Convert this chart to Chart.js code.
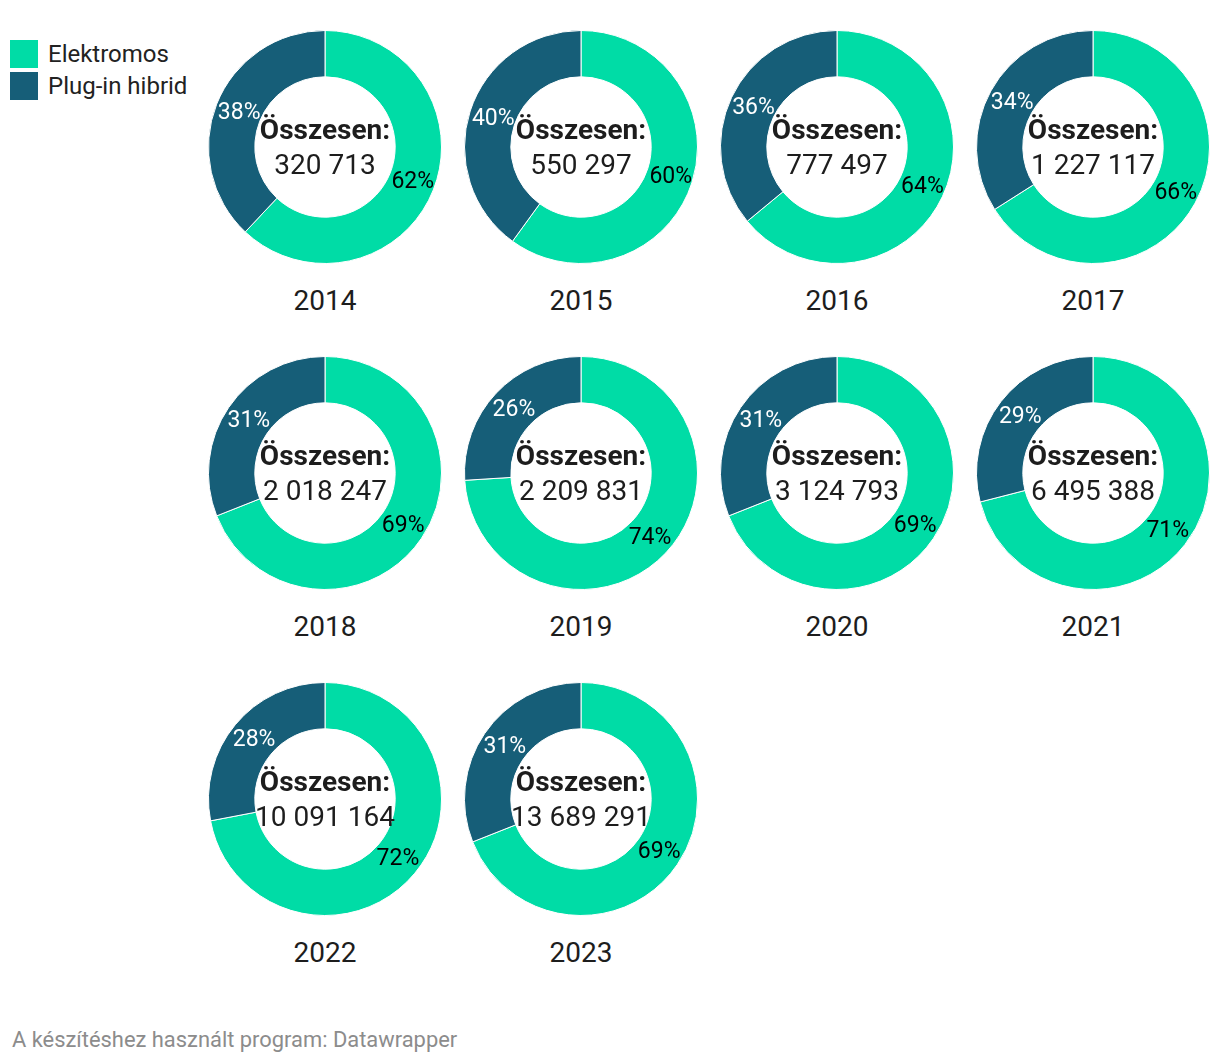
<!DOCTYPE html>
<html>
<head>
<meta charset="utf-8">
<script src="https://cdn.jsdelivr.net/npm/chart.js@4/dist/chart.umd.min.js"></script>
<style>
  html, body { margin: 0; padding: 0; background: #fff; }
  #wrap { position: relative; width: 1220px; height: 1064px; font-family: Roboto, "Noto Sans", sans-serif; color: #1d1d1d; overflow: hidden; }
  canvas { position: absolute; }
  .center { position: absolute; width: 240px; text-align: center; font-size: 28px; line-height: 35px; white-space: nowrap; }
  .center b { font-weight: 700; }
  .year { position: absolute; width: 200px; text-align: center; font-size: 28px; line-height: 30px; }
  .leg { position: absolute; left: 10px; width: 28px; height: 28px; }
  .legtxt { position: absolute; left: 48px; font-size: 24px; line-height: 28px; color: #222; white-space: nowrap; }
  #footer { position: absolute; left: 12px; top: 1026px; font-size: 21.9px; line-height: 28px; color: #8c8c8c; white-space: nowrap; }
</style>
</head>
<body>
<div id="wrap"></div>
<script>
const years = ["2014","2015","2016","2017","2018","2019","2020","2021","2022","2023"];
const seriesNames = ["Elektromos", "Plug-in hibrid"];
const elektromosPct = [62, 60, 64, 66, 69, 74, 69, 71, 72, 69];
const pluginPct = [38, 40, 36, 34, 31, 26, 31, 29, 28, 31];
const totals = ["320 713", "550 297", "777 497", "1 227 117", "2 018 247", "2 209 831", "3 124 793", "6 495 388", "10 091 164", "13 689 291"];
const centerTitle = "Összesen:";
const footerText = "A készítéshez használt program: Datawrapper";

const COLORS = ["#00dca6", "#165e78"];
const LABEL_COLORS = ["#000000", "#ffffff"];

const wrap = document.getElementById("wrap");

// legend
seriesNames.forEach((name, i) => {
  const sq = document.createElement("div");
  sq.className = "leg";
  sq.style.top = (40 + i * 32) + "px";
  sq.style.background = COLORS[i];
  wrap.appendChild(sq);
  const t = document.createElement("div");
  t.className = "legtxt";
  t.style.top = (40 + i * 32) + "px";
  t.textContent = name;
  wrap.appendChild(t);
});

const pctLabels = {
  id: "pctLabels",
  afterDatasetsDraw(chart) {
    const ctx = chart.ctx;
    const meta = chart.getDatasetMeta(0);
    const data = chart.data.datasets[0].data;
    ctx.save();
    ctx.font = "23px Roboto, 'Noto Sans', sans-serif";
    ctx.textAlign = "center";
    ctx.textBaseline = "middle";
    meta.data.forEach((arc, i) => {
      const p = arc.tooltipPosition();
      ctx.fillStyle = LABEL_COLORS[i];
      ctx.fillText(data[i] + "%", p.x + 1, p.y + 1);
    });
    ctx.restore();
  }
};

const SIZE = 250;
years.forEach((yr, i) => {
  const col = i % 4, row = Math.floor(i / 4);
  const cx = 325 + 256 * col;
  const cy = 147 + 326 * row;

  const cv = document.createElement("canvas");
  cv.width = SIZE; cv.height = SIZE;
  cv.style.width = SIZE + "px"; cv.style.height = SIZE + "px";
  cv.style.left = (cx - SIZE / 2) + "px";
  cv.style.top = (cy - SIZE / 2) + "px";
  wrap.appendChild(cv);

  new Chart(cv, {
    type: "doughnut",
    data: {
      labels: seriesNames,
      datasets: [{
        data: [elektromosPct[i], pluginPct[i]],
        backgroundColor: COLORS,
        borderColor: "#ffffff",
        borderWidth: 1
      }]
    },
    options: {
      responsive: false,
      animation: false,
      devicePixelRatio: 1,
      radius: 116.5,
      cutout: 75,
      layout: { padding: 0 },
      plugins: { legend: { display: false }, tooltip: { enabled: false } }
    },
    plugins: [pctLabels]
  });

  const c = document.createElement("div");
  c.className = "center";
  c.style.left = (cx - 120) + "px";
  c.style.top = (cy - 35.5) + "px";
  c.innerHTML = "<b></b><br><span></span>";
  c.querySelector("b").textContent = centerTitle;
  c.querySelector("span").textContent = totals[i];
  wrap.appendChild(c);

  const y = document.createElement("div");
  y.className = "year";
  y.style.left = (cx - 100) + "px";
  y.style.top = (cy + 154 - 15) + "px";
  y.textContent = yr;
  wrap.appendChild(y);
});

const f = document.createElement("div");
f.id = "footer";
f.textContent = footerText;
wrap.appendChild(f);
</script>
</body>
</html>
